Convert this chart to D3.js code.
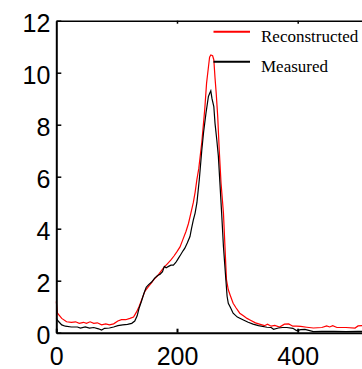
<!DOCTYPE html>
<html>
<head>
<meta charset="utf-8">
<script src="https://cdn.jsdelivr.net/npm/d3@7"></script>
<style>
  html, body { margin: 0; padding: 0; background: #fff; }
  svg { display: block; }
</style>
</head>
<body>
<svg id="chart" width="362" height="369"></svg>
<script>
// curve points: [x, intensity]
const reconstructed = [
  [0, 1.2], [2, 0.75], [9, 0.55], [17, 0.42], [25, 0.40], [32, 0.42], [38, 0.36], [45, 0.40],
  [50, 0.36], [56, 0.42], [62, 0.36], [68, 0.38], [75, 0.30], [82, 0.34], [88, 0.30], [95, 0.34],
  [102, 0.45], [108, 0.50], [115, 0.50], [122, 0.55], [128, 0.60], [133, 0.80], [137, 1.0],
  [142, 1.3], [147, 1.6], [152, 1.75], [157, 1.9], [162, 2.05], [168, 2.2], [173, 2.35],
  [178, 2.5], [184, 2.65], [190, 2.8], [195, 2.95], [200, 3.12], [205, 3.3], [210, 3.6],
  [215, 3.9], [219, 4.2], [223, 4.6], [227, 5.0], [230, 5.4], [233, 5.9], [236, 6.3],
  [241, 7.3], [246, 8.6], [249, 9.6], [252, 10.2], [254, 10.6], [256, 10.68], [259, 10.65],
  [261, 10.5], [263, 9.8], [265, 9.2], [267.5, 8.3], [270, 7.03], [273, 5.75], [277, 4.59],
  [279.5, 3.3], [282, 2.03], [285, 1.65], [288, 1.45], [293, 1.13], [298, 0.95], [304, 0.75],
  [310, 0.65], [316, 0.55], [321, 0.49], [330, 0.38], [338, 0.32], [345, 0.27], [350, 0.33],
  [356, 0.25], [362, 0.28], [370, 0.22], [378, 0.33], [385, 0.34], [392, 0.25], [398, 0.25],
  [405, 0.24], [415, 0.21], [426, 0.18], [440, 0.20], [448, 0.26], [453, 0.22], [458, 0.27],
  [465, 0.20], [480, 0.20], [495, 0.18], [500, 0.26], [510, 0.28]
];

const measured = [
  [0, 0.55], [3, 0.45], [9, 0.30], [15, 0.25], [25, 0.22], [35, 0.22], [40, 0.18], [48, 0.22],
  [55, 0.18], [62, 0.20], [70, 0.15], [75, 0.10], [80, 0.17], [88, 0.18], [95, 0.22], [102, 0.27],
  [110, 0.30], [118, 0.32], [125, 0.36], [130, 0.45], [134, 0.65], [137, 0.93], [141, 1.2],
  [145, 1.5], [149, 1.75], [153, 1.85], [158, 1.95], [163, 2.1], [168, 2.2], [172, 2.25],
  [176, 2.35], [179, 2.55], [182, 2.5], [186, 2.55], [190, 2.6], [194, 2.6], [198, 2.7],
  [202, 2.85], [206, 3.0], [210, 3.15], [213, 3.25], [217, 3.45], [221.5, 3.7], [224, 4.0],
  [227, 4.33], [230, 4.6], [233, 5.0], [237, 5.9], [241, 7.0], [244, 7.7], [248, 8.44],
  [252, 9.08], [254, 9.2], [256, 9.3], [258, 9.0], [261, 8.7], [263, 8.05], [266, 7.4],
  [268.5, 6.8], [271, 5.8], [274, 4.59], [277, 3.3], [281, 2.03], [283, 1.4], [285, 1.13],
  [289, 0.95], [293, 0.75], [300, 0.60], [310, 0.49], [318, 0.40], [326, 0.33], [335, 0.27],
  [349, 0.21], [356, 0.20], [360, 0.13], [368, 0.18], [375, 0.20], [382, 0.20], [392, 0.17],
  [398, 0.08], [405, 0.12], [412, 0.13], [420, 0.08], [426, 0.04], [440, 0.05], [460, 0.05],
  [480, 0.04], [500, 0.05], [510, 0.05]
];

const xTicks = [0, 200, 400];
const yTicks = [0, 2, 4, 6, 8, 10, 12];
const seriesNames = ["Reconstructed", "Measured"];
const seriesColors = ["#ff0000", "#000000"];

const svg = d3.select("#chart");

const x = d3.scaleLinear().domain([0, 600]).range([56.3, 56.3 + 600 * 0.6035]);
const y = d3.scaleLinear().domain([0, 12]).range([332.7, 20.7]);

// top frame line with small ticks
svg.append("g")
  .attr("transform", `translate(0,${y(12)})`)
  .call(d3.axisTop(x).tickValues([200, 400]).tickSizeInner(-3).tickSizeOuter(0).tickFormat(""))
  .call(g => g.select(".domain").attr("stroke-width", 1.5))
  .call(g => g.selectAll(".tick line").attr("stroke-width", 1.5));

// curves
const line = d3.line().x(d => x(d[0])).y(d => y(d[1]));
[reconstructed, measured].forEach((data, i) => {
  svg.append("path")
    .datum(data)
    .attr("fill", "none")
    .attr("stroke", seriesColors[i])
    .attr("stroke-width", 1.2)
    .attr("d", line);
});

// bottom axis
svg.append("g")
  .attr("transform", `translate(0,${y(0)})`)
  .call(d3.axisBottom(x).tickValues(xTicks).tickSizeInner(-4).tickSizeOuter(0).tickPadding(15))
  .call(g => g.select(".domain").attr("stroke-width", 2))
  .call(g => g.selectAll(".tick line").attr("stroke-width", 2))
  .call(g => g.selectAll("text")
    .attr("font-family", "'Liberation Sans', Arial, sans-serif")
    .attr("font-size", 25)
    .attr("fill", "#000"));

// left axis
svg.append("g")
  .attr("transform", `translate(${x(0)},0)`)
  .call(d3.axisLeft(y).tickValues(yTicks).tickSizeInner(-5).tickSizeOuter(0).tickPadding(6))
  .call(g => g.select(".domain").attr("stroke-width", 2))
  .call(g => g.selectAll(".tick line").attr("stroke-width", 1.5))
  .call(g => g.selectAll("text")
    .attr("dy", "0.42em")
    .attr("font-family", "'Liberation Sans', Arial, sans-serif")
    .attr("font-size", 25)
    .attr("fill", "#000"));

// legend
const legend = svg.append("g");
seriesNames.forEach((name, i) => {
  const ly = 31.7 + i * 30;
  legend.append("line")
    .attr("x1", 213.5).attr("x2", 250)
    .attr("y1", ly).attr("y2", ly)
    .attr("stroke", seriesColors[i])
    .attr("stroke-width", 2);
  legend.append("text")
    .attr("x", 261).attr("y", ly + 10)
    .attr("font-family", "'Liberation Serif', 'Times New Roman', serif")
    .attr("font-size", 17)
    .attr("fill", "#000")
    .text(name);
});
</script>
</body>
</html>
